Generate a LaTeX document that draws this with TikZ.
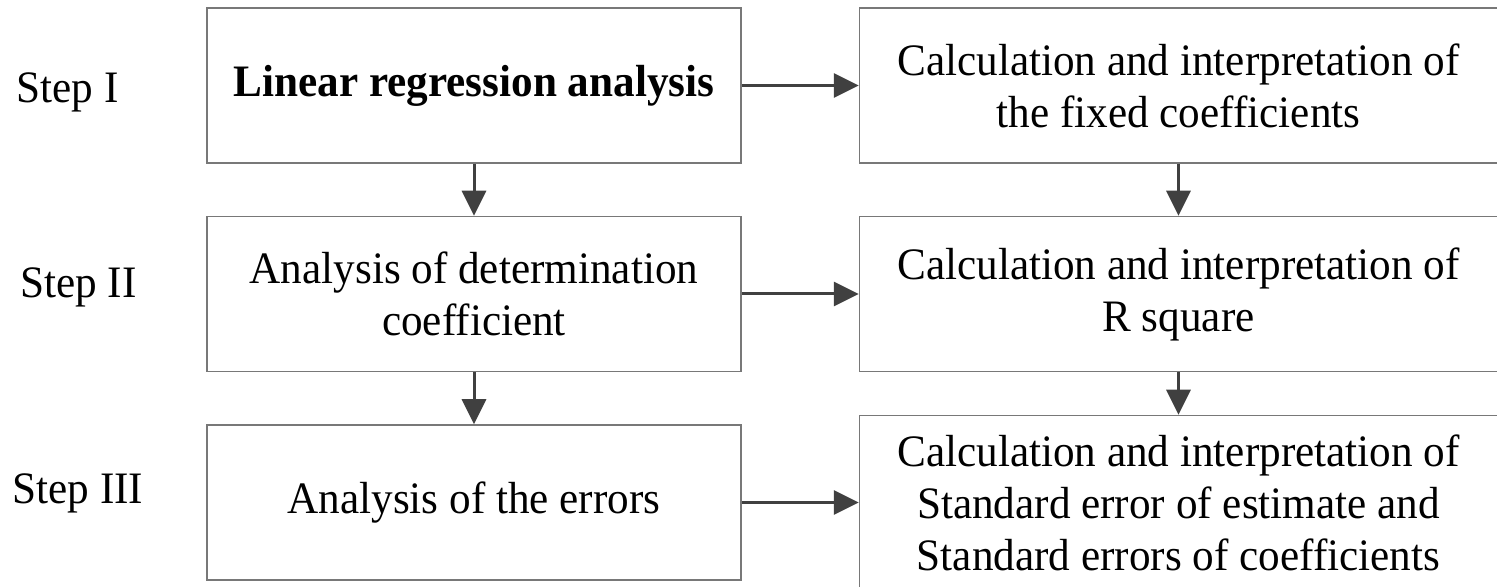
\documentclass[tikz,border=0pt]{standalone}
\usepackage{fontspec}
\setmainfont{Liberation Serif}[FakeStretch=0.96]
\usepackage{tikz}
\usetikzlibrary{arrows.meta, positioning}
\usepackage{xcolor}
\definecolor{boxgray}{RGB}{120, 120, 120}
\definecolor{arrowgray}{RGB}{64, 64, 64}

\begin{document}
\begin{tikzpicture}[
      node distance=1.04cm and 2.34cm,
      block/.style={rectangle, draw=boxgray, line width=0.85pt, inner sep=0pt, align=center, font=\fontsize{25.6}{29.6}\selectfont},
      lblock/.style={block, minimum width=10.68cm, minimum height=3.1cm},
      rblock/.style={block, minimum width=12.76cm, minimum height=3.1cm},
      steplbl/.style={inner sep=0pt, font=\fontsize{25.6}{29.6}\selectfont},
      arr/.style={-{Triangle[length=0.5cm, width=0.48cm]}, line width=1.7pt, draw=arrowgray}
    ]
      \useasboundingbox (0,0) rectangle (29.94,11.72);
      \clip (0,0) rectangle (29.94,11.72);

      \node[lblock] (lin) at (9.48,10.01) {\textbf{Linear regression analysis}};
      \node[lblock, below=of lin] (det) {Analysis of determination \\ coefficient};
      \node[lblock, below=of det] (err) {Analysis of the errors};
      \node[rblock, right=of lin] (coef) {Calculation and interpretation of \\ the fixed coefficients};
      \node[rblock, right=of det] (rsq) {Calculation and interpretation of \\ R square};
      \node[rblock, right=of err, minimum height=3.48cm] (se) {Calculation and interpretation of \\ Standard error of estimate and \\ Standard errors of coefficients};

      \node[steplbl] (s1) at (1.35,9.88) {Step I};
      \node[steplbl] (s2) at (1.57,5.98) {Step II};
      \node[steplbl] (s3) at (1.56,1.86) {Step III};

      \draw[arr] (lin) -- (coef);
      \draw[arr] (det) -- (rsq);
      \draw[arr] (err) -- (se);
      \draw[arr] (lin) -- (det);
      \draw[arr] (det) -- (err);
      \draw[arr] (coef) -- (rsq);
      \draw[arr] (rsq) -- (se);
    \end{tikzpicture}
\end{document}
